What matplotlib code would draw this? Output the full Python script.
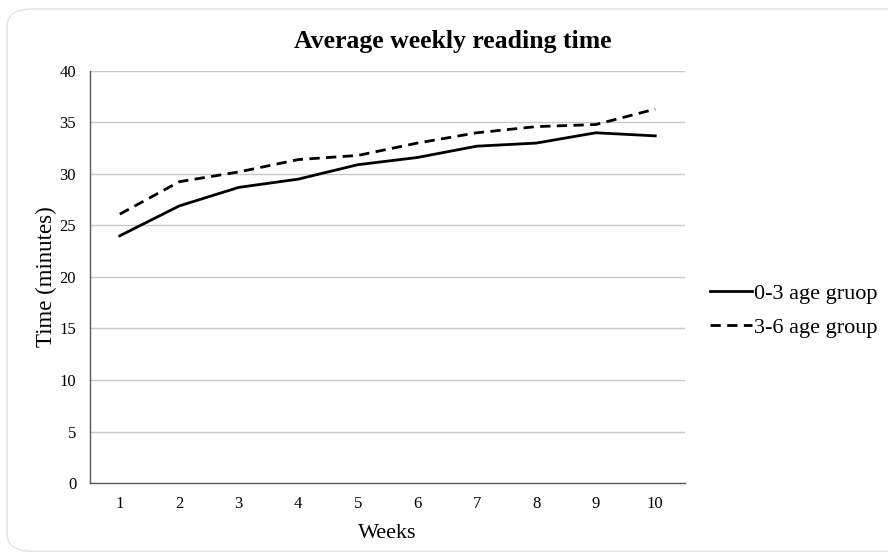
import matplotlib.pyplot as plt
from matplotlib.patches import FancyBboxPatch

weeks = [1, 2, 3, 4, 5, 6, 7, 8, 9, 10]
group_0_3 = [24.0, 26.9, 28.7, 29.5, 30.9, 31.6, 32.7, 33.0, 34.0, 33.7]
group_3_6 = [26.1, 29.25, 30.2, 31.4, 31.8, 33.0, 34.0, 34.6, 34.8, 36.3]
labels = ['0-3 age gruop', '3-6 age group']

plt.rcParams['font.family'] = ['Liberation Serif', 'DejaVu Serif']

fig = plt.figure(figsize=(8.88, 5.58), dpi=100)

# rounded chart border, behind everything
border = FancyBboxPatch((0.008, 0.012), 1.2, 0.972, boxstyle='round,pad=0,rounding_size=0.03',
                        transform=fig.transFigure, facecolor='white', edgecolor='#e3e3e3',
                        linewidth=1.0, zorder=-5)
fig.patches.append(border)

ax = fig.add_axes([0.1014, 0.1344, 0.67, 0.7384])
ax.set_facecolor('none')

ax.plot(weeks, group_0_3, color='black', linewidth=2, label=labels[0])
ax.plot(weeks, group_3_6, color='black', linewidth=2, linestyle=(0, (3.7, 2.3)), label=labels[1])

ax.set_xlim(0.5, 10.5)
ax.set_ylim(0, 40)
ax.set_xticks(weeks)
ax.set_yticks(range(0, 41, 5))
ax.tick_params(length=0, labelsize=12)
ax.tick_params(axis='x', pad=9)
ax.tick_params(axis='y', pad=10)
ax.grid(axis='y', color='#c8c8c8', linewidth=1)
ax.set_axisbelow(True)

for side in ['top', 'right']:
    ax.spines[side].set_visible(False)
for side in ['left', 'bottom']:
    ax.spines[side].set_color('#595959')
    ax.spines[side].set_linewidth(1)

ax.set_xlabel('Weeks', fontsize=16, labelpad=9)
ax.set_ylabel('Time (minutes)', fontsize=16.5, labelpad=2)
fig.text(0.51, 0.926, 'Average weekly reading time', ha='center', va='center',
         fontsize=18.5, fontweight='bold')

ax.legend(loc='center left', bbox_to_anchor=(1.008, 0.418), frameon=False, fontsize=16,
          handlelength=1.9, handletextpad=0.1, labelspacing=0.6)

fig.savefig('out.png', dpi=100)
